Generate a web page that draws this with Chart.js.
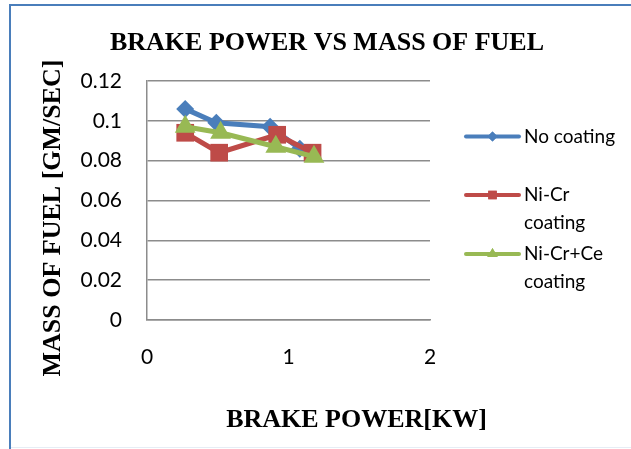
<!DOCTYPE html>
<html>
<head>
<meta charset="utf-8">
<script src="https://cdn.jsdelivr.net/npm/chart.js@4/dist/chart.umd.min.js"></script>
<style>
  html, body { margin: 0; padding: 0; background: #ffffff; }
  #wrap { position: relative; width: 631px; height: 449px; }
  canvas { display: block; }
</style>
</head>
<body>
<div id="wrap"><canvas id="c" width="631" height="449"></canvas></div>
<script>
// ---- data ----
const chartTitle = 'BRAKE POWER VS MASS OF FUEL';
const xAxisTitle = 'BRAKE POWER[KW]';
const yAxisTitle = 'MASS OF FUEL [GM/SEC]';
const seriesNames = ['No coating', 'Ni-Cr\ncoating', 'Ni-Cr+Ce\ncoating'];
const powerNoCoating = [0.27, 0.49, 0.87, 1.08];
const fuelNoCoating = [0.106, 0.099, 0.097, 0.086];
const powerNiCr = [0.27, 0.51, 0.92, 1.17];
const fuelNiCr = [0.094, 0.084, 0.093, 0.084];
const powerNiCrCe = [0.27, 0.52, 0.91, 1.18];
const fuelNiCrCe = [0.097, 0.094, 0.087, 0.082];
const xTicks = [0, 1, 2];
const yTicks = [0, 0.02, 0.04, 0.06, 0.08, 0.1, 0.12];

const pts = (xs, ys) => xs.map((x, i) => ({ x: x, y: ys[i] }));

const colors = ['#4A7EBB', '#BE4B48', '#98B954'];
const styles = ['rectRot', 'rect', 'triangle'];
const radii = [9, 12.5, 12];
const legendRadii = [5, 6, 6];

const datasets = [
  { label: seriesNames[0], data: pts(powerNoCoating, fuelNoCoating), order: 2 },
  { label: seriesNames[1], data: pts(powerNiCr, fuelNiCr), order: 1 },
  { label: seriesNames[2], data: pts(powerNiCrCe, fuelNiCrCe), order: 0 }
].map((d, i) => Object.assign(d, {
  showLine: true,
  borderColor: colors[i],
  backgroundColor: colors[i],
  borderWidth: 5,
  pointStyle: styles[i],
  pointRadius: radii[i],
  pointHoverRadius: radii[i],
  pointBorderWidth: 0,
  tension: 0
}));

const serif = '"Liberation Serif", "Times New Roman", serif';
const sans = 'Lato, Carlito, Calibri, sans-serif';

const decor = {
  id: 'decor',
  beforeDraw(chart) {
    const ctx = chart.ctx;
    ctx.save();
    ctx.fillStyle = '#ffffff';
    ctx.fillRect(0, 0, chart.width, chart.height);
    // outer border
    ctx.strokeStyle = '#4A7EBB';
    ctx.lineWidth = 2;
    ctx.beginPath();
    ctx.moveTo(10, 449);
    ctx.lineTo(10, 5);
    ctx.lineTo(631, 5);
    ctx.stroke();
    ctx.strokeStyle = '#e6edf5';
    ctx.lineWidth = 1;
    ctx.beginPath();
    ctx.moveTo(11, 447.5);
    ctx.lineTo(631, 447.5);
    ctx.stroke();
    ctx.restore();
  },
  afterDraw(chart) {
    const ctx = chart.ctx;
    ctx.save();
    ctx.fillStyle = '#000000';
    // chart title
    ctx.font = 'bold 26px ' + serif;
    ctx.textAlign = 'center';
    ctx.textBaseline = 'alphabetic';
    ctx.fillText(chartTitle, 327, 49.5);
    // x axis title
    ctx.fillText(xAxisTitle, 356.5, 426.5);
    // y axis title
    ctx.save();
    ctx.translate(60, 218);
    ctx.rotate(-Math.PI / 2);
    ctx.font = 'bold 26px ' + serif;
    ctx.fillText(yAxisTitle, 0, 0);
    ctx.restore();
    // legend
    const rows = [136.5, 195, 254];
    ctx.font = '19px ' + sans;
    ctx.textAlign = 'left';
    ctx.textBaseline = 'middle';
    chart.data.datasets.forEach((ds, i) => {
      const y = rows[i];
      ctx.strokeStyle = ds.borderColor;
      ctx.lineWidth = 4;
      ctx.lineCap = 'round';
      ctx.beginPath();
      ctx.moveTo(466, y);
      ctx.lineTo(519, y);
      ctx.stroke();
      ctx.fillStyle = ds.borderColor;
      ctx.beginPath();
      Chart.helpers.drawPoint(ctx, {
        pointStyle: ds.pointStyle, radius: legendRadii[i], borderWidth: 0, rotation: 0
      }, 492.5, y);
      ctx.fill();
      ctx.fillStyle = '#000000';
      String(ds.label).split('\n').forEach((line, k) => {
        ctx.fillText(line, 524, y + k * 28);
      });
    });
    ctx.restore();
  }
};

new Chart(document.getElementById('c'), {
  type: 'line',
  data: { datasets: datasets },
  plugins: [decor],
  options: {
    responsive: false,
    animation: false,
    events: [],
    layout: { autoPadding: false, padding: { left: 0, right: 201, top: 81, bottom: 0 } },
    plugins: { legend: { display: false }, title: { display: false }, tooltip: { enabled: false } },
    scales: {
      x: {
        type: 'linear',
        min: xTicks[0],
        max: xTicks[xTicks.length - 1],
        afterFit(s) { s.height = 129; },
        afterBuildTicks(s) { s.ticks = xTicks.map(v => ({ value: v })); },
        grid: { display: false, drawTicks: false },
        border: { display: true, color: '#8c8c8c', width: 1.5 },
        ticks: { padding: 25, color: '#000000', font: { family: sans, size: 21 } }
      },
      y: {
        type: 'linear',
        min: yTicks[0],
        max: yTicks[yTicks.length - 1],
        afterFit(s) { s.width = 147; },
        afterBuildTicks(s) { s.ticks = yTicks.map(v => ({ value: v })); },
        grid: { display: true, drawTicks: false, color: '#8c8c8c', lineWidth: 1.5 },
        border: { display: true, color: '#8c8c8c', width: 1.5 },
        ticks: { padding: 25, color: '#000000', font: { family: sans, size: 21 },
                 callback: v => String(v) }
      }
    }
  }
});
</script>
</body>
</html>
